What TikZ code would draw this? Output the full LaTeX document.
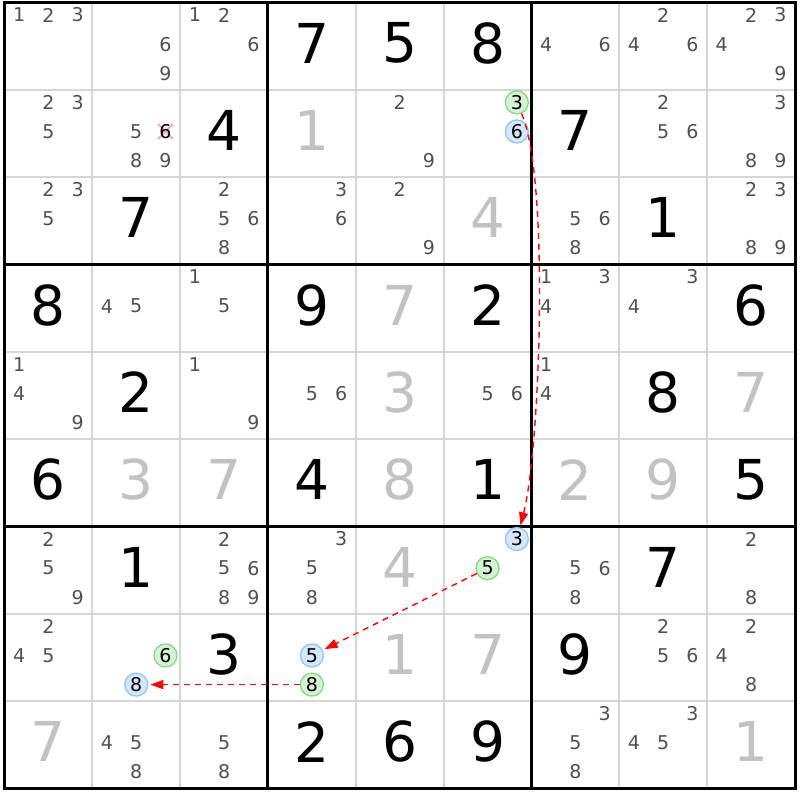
\documentclass[tikz,border=0pt]{standalone}
\usepackage{fontspec}
\setmainfont{DejaVu Sans}
\usetikzlibrary{arrows.meta}
\definecolor{candgray}{HTML}{505050}
\definecolor{solvedgray}{HTML}{C2C2C2}
\definecolor{thingray}{HTML}{D6D6D6}
\definecolor{bluefill}{HTML}{D5E8FB}
\definecolor{blueline}{HTML}{94C4F2}
\definecolor{greenfill}{HTML}{D5F2D5}
\definecolor{greenline}{HTML}{86D886}
\definecolor{linkred}{HTML}{FF0000}
\definecolor{xpink}{HTML}{F4A0A8}
\newcommand\sdpos[3]{%
  \pgfmathsetmacro\sdx{4.5+(#2-1)*87.83+(2*mod(#3-1,3)+1)*14.638}%
  \pgfmathsetmacro\sdy{2.5+(#1-1)*87.33+(2*floor((#3-1)/3)+1)*14.555-2}}
\newcommand\sdcands[3]{\foreach \dd in {#3}{\sdpos{#1}{#2}{\dd}\node[cand] (n#1#2\dd) at (\sdx,\sdy) {\dd};}}
\newcommand\sdbig[4]{%
  \pgfmathsetmacro\sdx{4.5+(#3-0.5)*87.83}%
  \pgfmathsetmacro\sdy{2.5+(#2-0.5)*87.33-3}%
  \node[#1] (b#2#3) at (\sdx,\sdy) {#4};}
\begin{document}
\begin{tikzpicture}[x=1pt,y=-1pt,
  cand/.style={font=\fontsize{19}{19}\selectfont, text=candgray, inner sep=0pt},
  given/.style={font=\fontsize{55}{55}\selectfont, text=black, inner sep=0pt},
  solved/.style={font=\fontsize{55}{55}\selectfont, text=solvedgray, inner sep=0pt},
  circ/.style={circle, inner sep=0pt, minimum size=23pt, line width=1.3pt, font=\fontsize{19}{19}\selectfont, text=black},
  bc/.style={circ, draw=blueline, fill=bluefill},
  gc/.style={circ, draw=greenline, fill=greenfill},
  thinline/.style={draw=thingray, line width=2pt},
  thickline/.style={draw=black, line width=3pt},
  xmark/.style={draw=xpink, line width=1.7pt},
  link/.style={draw=linkred, line width=1.4pt, dash pattern=on 6pt off 5pt, shorten >=2pt, -{Triangle[length=13pt,width=9pt]}}]
\useasboundingbox (0,0) rectangle (800,800);
\fill[white] (0,0) rectangle (800,800);
% grid
\foreach \i in {1,2,4,5,7,8}{
  \draw[thinline] ({4.5+\i*87.83},2.5) -- ({4.5+\i*87.83},788.5);
  \draw[thinline] (4.5,{2.5+\i*87.33}) -- (795,{2.5+\i*87.33});
}
\foreach \i in {3,6}{
  \draw[thickline] ({4.5+\i*87.83},2.5) -- ({4.5+\i*87.83},788.5);
  \draw[thickline] (4.5,{2.5+\i*87.33}) -- (795,{2.5+\i*87.33});
}
\draw[thickline] (4.5,2.5) rectangle (795,788.5);
% givens
\sdbig{given}{1}{4}{7}\sdbig{given}{1}{5}{5}\sdbig{given}{1}{6}{8}
\sdbig{given}{2}{3}{4}\sdbig{given}{2}{7}{7}
\sdbig{given}{3}{2}{7}\sdbig{given}{3}{8}{1}
\sdbig{given}{4}{1}{8}\sdbig{given}{4}{4}{9}\sdbig{given}{4}{6}{2}\sdbig{given}{4}{9}{6}
\sdbig{given}{5}{2}{2}\sdbig{given}{5}{8}{8}
\sdbig{given}{6}{1}{6}\sdbig{given}{6}{4}{4}\sdbig{given}{6}{6}{1}\sdbig{given}{6}{9}{5}
\sdbig{given}{7}{2}{1}\sdbig{given}{7}{8}{7}
\sdbig{given}{8}{3}{3}\sdbig{given}{8}{7}{9}
\sdbig{given}{9}{4}{2}\sdbig{given}{9}{5}{6}\sdbig{given}{9}{6}{9}
% solved
\sdbig{solved}{2}{4}{1}\sdbig{solved}{3}{6}{4}\sdbig{solved}{4}{5}{7}
\sdbig{solved}{5}{5}{3}\sdbig{solved}{5}{9}{7}
\sdbig{solved}{6}{2}{3}\sdbig{solved}{6}{3}{7}\sdbig{solved}{6}{5}{8}\sdbig{solved}{6}{7}{2}\sdbig{solved}{6}{8}{9}
\sdbig{solved}{7}{5}{4}\sdbig{solved}{8}{5}{1}\sdbig{solved}{8}{6}{7}
\sdbig{solved}{9}{1}{7}\sdbig{solved}{9}{9}{1}
% candidates
\sdcands{1}{1}{1,2,3}\sdcands{1}{2}{6,9}\sdcands{1}{3}{1,2,6}
\sdcands{1}{7}{4,6}\sdcands{1}{8}{2,4,6}\sdcands{1}{9}{2,3,4,9}
\sdcands{2}{1}{2,3,5}\sdcands{2}{2}{5,8,9}\sdcands{2}{5}{2,9}
\sdcands{2}{8}{2,5,6}\sdcands{2}{9}{3,8,9}
\sdcands{3}{1}{2,3,5}\sdcands{3}{3}{2,5,6,8}\sdcands{3}{4}{3,6}\sdcands{3}{5}{2,9}
\sdcands{3}{7}{5,6,8}\sdcands{3}{9}{2,3,8,9}
\sdcands{4}{2}{4,5}\sdcands{4}{3}{1,5}\sdcands{4}{7}{1,3,4}\sdcands{4}{8}{3,4}
\sdcands{5}{1}{1,4,9}\sdcands{5}{3}{1,9}\sdcands{5}{4}{5,6}\sdcands{5}{6}{5,6}\sdcands{5}{7}{1,4}
\sdcands{7}{1}{2,5,9}\sdcands{7}{3}{2,5,6,8,9}\sdcands{7}{4}{3,5,8}
\sdcands{7}{7}{5,6,8}\sdcands{7}{9}{2,8}
\sdcands{8}{1}{2,4,5}\sdcands{8}{8}{2,5,6}\sdcands{8}{9}{2,4,8}
\sdcands{9}{2}{4,5,8}\sdcands{9}{3}{5,8}\sdcands{9}{7}{3,5,8}\sdcands{9}{8}{3,4,5}
% eliminated candidate
\sdpos{2}{2}{6}
\coordinate (x226) at (\sdx,\sdy);
\draw[xmark] ([shift={(-7.5,-7.5)}]x226) -- ([shift={(7.5,7.5)}]x226);
\draw[xmark] ([shift={(-7.5,7.5)}]x226) -- ([shift={(7.5,-7.5)}]x226);
\node[cand, text=black] (n226) at (x226) {6};
% highlighted candidates
\sdpos{2}{6}{3}\node[gc] (g263) at (\sdx,\sdy) {3};
\sdpos{2}{6}{6}\node[bc] (b266) at (\sdx,\sdy) {6};
\sdpos{7}{6}{3}\node[bc] (b763) at (\sdx,\sdy) {3};
\sdpos{7}{6}{5}\node[gc] (g765) at (\sdx,\sdy) {5};
\sdpos{8}{2}{6}\node[gc] (g826) at (\sdx,\sdy) {6};
\sdpos{8}{2}{8}\node[bc] (b828) at (\sdx,\sdy) {8};
\sdpos{8}{4}{5}\node[bc] (b845) at (\sdx,\sdy) {5};
\sdpos{8}{4}{8}\node[gc] (g848) at (\sdx,\sdy) {8};
% links
\draw[link] (g263) .. controls (550,180) and (540,450) .. (b763);
\draw[link] (g765) -- (b845);
\draw[link] (g848) -- (b828);
\end{tikzpicture}
\end{document}
